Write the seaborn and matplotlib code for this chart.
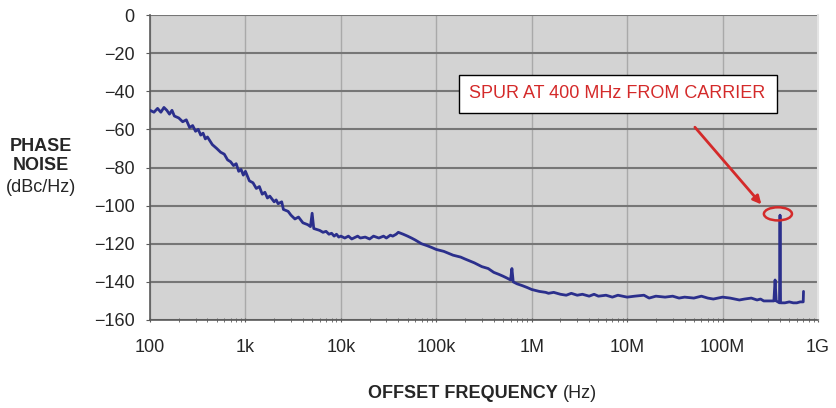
import numpy as np
import pandas as pd
import seaborn as sns
import matplotlib
matplotlib.use('Agg')
import matplotlib.pyplot as plt
from matplotlib.patches import Ellipse
from matplotlib.ticker import LogLocator, NullFormatter

# frequenze di offset (Hz) e rumore di fase (dBc/Hz), riga per riga
freq = [100, 110, 120, 130, 140, 150, 160, 170, 180, 200, 220, 240, 260, 280, 300,
        320, 340, 360, 380, 400, 450, 500, 550, 600, 650, 700, 750, 800, 850, 900,
        950, 1000, 1100, 1200, 1300, 1400, 1500, 1600, 1700, 1800, 2000, 2100, 2200,
        2400, 2500, 2800, 3000, 3300, 3600, 4000, 4500, 4800, 5000, 5200, 5600, 6000,
        6500, 7000, 7500, 8000, 8500, 9000, 9500, 10e3, 11e3, 12e3, 13e3, 15e3, 16e3,
        18e3, 20e3, 22e3, 25e3, 28e3, 30e3, 33e3, 35e3, 38e3, 40e3, 45e3, 50e3,
        55e3, 60e3, 70e3, 80e3, 90e3, 100e3, 120e3, 150e3, 180e3, 200e3, 250e3, 300e3,
        350e3, 400e3, 450e3, 500e3, 550e3, 600e3, 620e3, 640e3, 700e3, 750e3, 800e3, 900e3,
        1e6, 1.1e6, 1.2e6, 1.4e6, 1.5e6, 1.7e6, 2e6, 2.3e6, 2.6e6, 3e6, 3.4e6, 4e6,
        4.5e6, 5e6, 6e6, 7e6, 8e6, 10e6, 12e6, 15e6, 17e6, 20e6, 25e6, 30e6,
        35e6, 40e6, 50e6, 60e6, 70e6, 80e6, 100e6, 120e6, 150e6, 170e6, 200e6, 230e6,
        250e6, 270e6, 290e6, 345e6, 355e6, 365e6, 395e6, 400e6, 405e6, 450e6, 500e6, 550e6,
        600e6, 650e6, 700e6, 705e6]
rumore = [-50, -51, -49, -51, -48.5, -50, -52, -50, -53, -54, -56, -55, -59, -58, -61,
          -60, -63, -62, -65, -64, -68, -70, -72, -73, -76, -77, -79, -78, -82, -81,
          -84, -82, -87, -88, -91, -90, -94, -93, -96, -95, -98, -97, -99,
          -98, -102, -103, -105, -107, -106, -109, -110, -111, -104, -112, -112.5, -113,
          -114, -113.5, -115, -114.5, -116, -115, -116.5, -116, -117, -116, -117.5, -116, -117,
          -116.5, -117.5, -116, -117, -116, -117, -115.5, -116, -115, -114, -115, -116,
          -117, -118, -120, -121, -122, -123, -124, -126, -127, -128, -130, -132,
          -133, -135, -136, -137, -138, -139, -133, -140, -141, -141.5, -142, -143,
          -144, -144.5, -145, -145.5, -146, -145.5, -146.5, -147, -146, -147, -146.5, -147.5,
          -146.5, -147.5, -147, -148, -147, -148, -147.5, -147, -148.5, -147.5, -148, -147.5,
          -148.5, -148, -148.5, -147.5, -148.5, -149, -148, -148.5, -149.5, -149, -148.5, -149.5,
          -149, -150, -150, -150, -139, -150, -151, -105, -151, -151, -150.5, -151,
          -151, -150.5, -150.5, -145]

tick_x = [1e2, 1e3, 1e4, 1e5, 1e6, 1e7, 1e8, 1e9]
etichette_x = ['100', '1k', '10k', '100k', '1M', '10M', '100M', '1G']
tick_y = [0, -20, -40, -60, -80, -100, -120, -140, -160]

sns.set_style('white')
plt.rcParams['font.family'] = ['Liberation Sans', 'DejaVu Sans']

df = pd.DataFrame({'freq': freq, 'rumore': rumore})

fig = plt.figure(figsize=(8.37, 4.08), dpi=100)
ax = fig.add_axes([150 / 837, 1 - 320 / 408, 668 / 837, 305 / 408])
ax.set_facecolor('#d3d3d3')

sns.lineplot(data=df, x='freq', y='rumore', ax=ax, color='#2b2f8c', linewidth=2.0,
             estimator=None, sort=False, zorder=3)

ax.set_xscale('log')
ax.set_xlim(1e2, 1e9)
ax.set_ylim(-160, 0)
ax.set_xticks(tick_x)
ax.set_xticklabels(etichette_x)
ax.xaxis.set_minor_locator(LogLocator(base=10, subs=np.arange(2, 10)))
ax.xaxis.set_minor_formatter(NullFormatter())
ax.set_yticks(tick_y)
ax.set_xlabel('')
ax.set_ylabel('')

ax.grid(True, axis='y', color='#767676', linewidth=1.5, zorder=1)
ax.grid(True, axis='x', which='major', color='#a9a9a9', linewidth=1.0, zorder=1)
ax.set_axisbelow(True)

ax.spines['top'].set_visible(False)
ax.spines['right'].set_color('#e4e4e4')
ax.spines['right'].set_linewidth(1.5)
for lato in ['left', 'bottom']:
    ax.spines[lato].set_color('#5a5a5a')
    ax.spines[lato].set_linewidth(1.2)

ax.tick_params(axis='x', which='major', length=3, direction='inout', color='#5a5a5a',
               labelsize=13, pad=12, bottom=True)
ax.tick_params(axis='x', which='minor', length=3, direction='inout', color='#5a5a5a',
               bottom=True)
ax.tick_params(axis='y', length=3, color='#5a5a5a', labelsize=13, pad=8, left=True)

# annotazione dello spur
ax.text(0.700, 0.741, 'SPUR AT 400 MHz FROM CARRIER', transform=ax.transAxes,
        ha='center', va='center', fontsize=13, color='#d42a2a',
        bbox=dict(boxstyle='square,pad=0.6', facecolor='white', edgecolor='black',
                  linewidth=1.0), zorder=5)
ax.annotate('', xy=(0.918, 0.372), xytext=(0.813, 0.639), xycoords='axes fraction',
            arrowprops=dict(arrowstyle='-|>', color='#d42a2a', lw=2,
                            mutation_scale=12), zorder=5)
ax.add_patch(Ellipse((0.940, 0.348), 0.042, 0.043, transform=ax.transAxes,
                     fill=False, edgecolor='#d42a2a', linewidth=1.8, zorder=5))

fig.text(41 / 837, 1 - 156 / 408, 'PHASE\nNOISE', ha='center', va='center',
         fontsize=13, fontweight='bold', linespacing=1.2)
fig.text(41 / 837, 1 - 188 / 408, '(dBc/Hz)', ha='center', va='center', fontsize=13)
fig.text(558 / 837, 1 - 393 / 408, 'OFFSET FREQUENCY', ha='right', va='center',
         fontsize=13, fontweight='bold')
fig.text(563 / 837, 1 - 393 / 408, '(Hz)', ha='left', va='center', fontsize=13)

fig.savefig('out.png', dpi=100)
